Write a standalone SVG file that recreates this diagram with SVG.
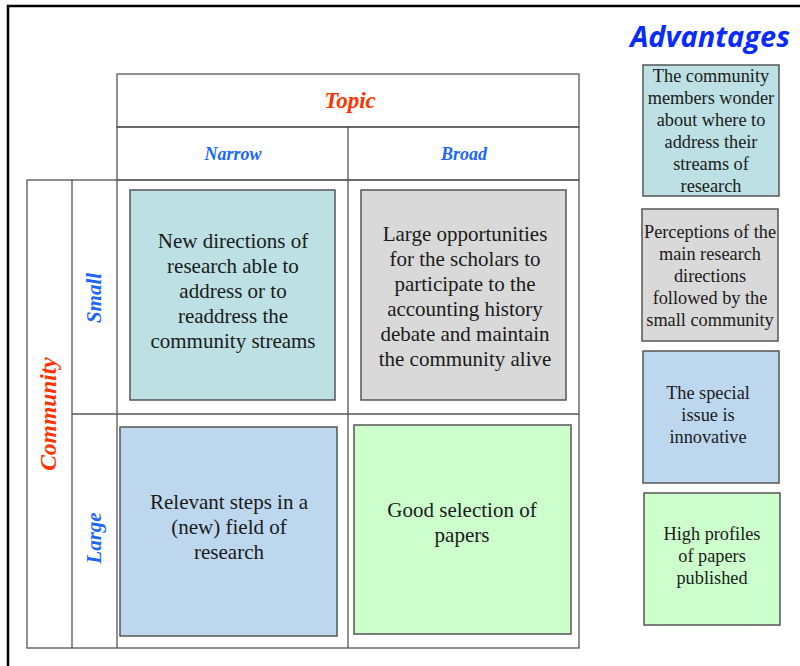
<svg xmlns="http://www.w3.org/2000/svg" width="800" height="666" viewBox="0 0 800 666">
<style>
.grid{fill:none;stroke:#555;stroke-width:1.3}
.box{stroke:#555;stroke-width:1.5}
.cell{font-size:21px}
.adv{font-size:18.3px}
</style>
<rect width="800" height="666" fill="#fff"/>
<path d="M8,666 V6 H800" fill="none" stroke="#000" stroke-width="2.5"/>
<g id="grid">
<rect class="grid" x="117" y="74" width="462" height="53"/>
<rect class="grid" x="117" y="127" width="462" height="53"/>
<line class="grid" x1="348" y1="127" x2="348" y2="648"/>
<rect class="grid" x="27" y="180" width="552" height="468"/>
<line class="grid" x1="72" y1="180" x2="72" y2="648"/>
<line class="grid" x1="117" y1="180" x2="117" y2="648"/>
<line class="grid" x1="72" y1="414" x2="579" y2="414"/>
</g>
<g id="headers" font-family="'Liberation Serif','Times New Roman',serif" font-weight="bold" font-style="italic" text-anchor="middle">
<text x="350" y="108" font-size="23" fill="#ff3300">Topic</text>
<text x="233" y="160" font-size="18" fill="#1a66ff">Narrow</text>
<text x="464" y="160" font-size="18" fill="#1a66ff">Broad</text>
<text transform="translate(56,414) rotate(-90)" font-size="23.5" fill="#ff3300">Community</text>
<text transform="translate(101,298) rotate(-90)" font-size="21" fill="#1a66ff">Small</text>
<text transform="translate(101,538) rotate(-90)" font-size="21" fill="#1a66ff">Large</text>
</g>
<text x="710" y="47" font-family="'Open Sans','DejaVu Sans',sans-serif" font-weight="bold" font-style="italic" font-size="29" fill="#0a2bff" text-anchor="middle">Advantages</text>
<g font-family="'Liberation Serif','Times New Roman',serif" fill="#1a1a1a" text-anchor="middle">
<g id="cell-small-narrow">
<rect class="box" x="130" y="190" width="205" height="210" fill="#bce0e3"/>
<text class="cell"><tspan x="233" y="248">New directions of</tspan><tspan x="233" y="273">research able to</tspan><tspan x="233" y="298">address or to</tspan><tspan x="233" y="323">readdress the</tspan><tspan x="233" y="348">community streams</tspan></text>
</g>
<g id="cell-small-broad">
<rect class="box" x="361" y="190" width="205" height="210" fill="#d9d9d9"/>
<text class="cell"><tspan x="465" y="241">Large opportunities</tspan><tspan x="465" y="266">for the scholars to</tspan><tspan x="465" y="291">participate to the</tspan><tspan x="465" y="316">accounting history</tspan><tspan x="465" y="341">debate and maintain</tspan><tspan x="465" y="366">the community alive</tspan></text>
</g>
<g id="cell-large-narrow">
<rect class="box" x="120" y="427" width="217" height="209" fill="#bdd7ee"/>
<text class="cell"><tspan x="229" y="509">Relevant steps in a</tspan><tspan x="229" y="534">(new) field of</tspan><tspan x="229" y="559">research</tspan></text>
</g>
<g id="cell-large-broad">
<rect class="box" x="354" y="425" width="217" height="209" fill="#ccffcc"/>
<text class="cell"><tspan x="462" y="517">Good selection of</tspan><tspan x="462" y="542">papers</tspan></text>
</g>
<g id="adv-1">
<rect class="box" x="643" y="65" width="136" height="131" fill="#bce0e3"/>
<text class="adv"><tspan x="711" y="82">The community</tspan><tspan x="711" y="104">members wonder</tspan><tspan x="711" y="126">about where to</tspan><tspan x="711" y="148">address their</tspan><tspan x="711" y="170">streams of</tspan><tspan x="711" y="192">research</tspan></text>
</g>
<g id="adv-2">
<rect class="box" x="642" y="209" width="136" height="132" fill="#d9d9d9"/>
<text class="adv"><tspan x="710" y="238">Perceptions of the</tspan><tspan x="710" y="260">main research</tspan><tspan x="710" y="282">directions</tspan><tspan x="710" y="304">followed by the</tspan><tspan x="710" y="326">small community</tspan></text>
</g>
<g id="adv-3">
<rect class="box" x="643" y="351" width="136" height="132" fill="#bdd7ee"/>
<text class="adv"><tspan x="708" y="399">The special</tspan><tspan x="708" y="421">issue is</tspan><tspan x="708" y="443">innovative</tspan></text>
</g>
<g id="adv-4">
<rect class="box" x="644" y="493" width="136" height="132" fill="#ccffcc"/>
<text class="adv"><tspan x="712" y="540">High profiles</tspan><tspan x="712" y="562">of papers</tspan><tspan x="712" y="584">published</tspan></text>
</g>
</g>
</svg>
